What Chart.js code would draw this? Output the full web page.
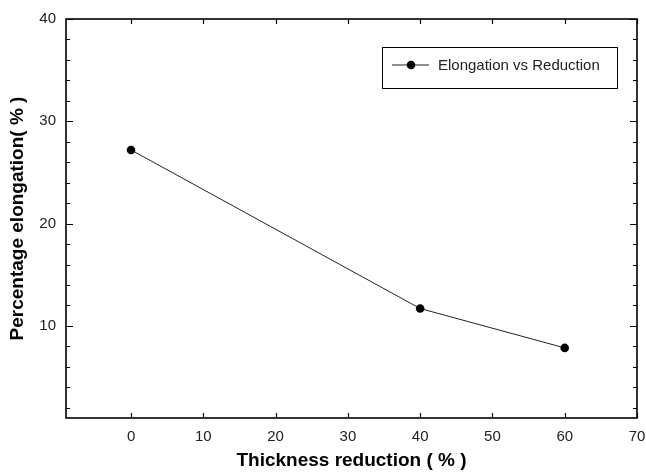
<!DOCTYPE html>
<html><head><meta charset="utf-8">
<script src="https://cdn.jsdelivr.net/npm/chart.js@4/dist/chart.umd.min.js"></script>
<style>html,body{margin:0;padding:0;background:#fff}#wrap{width:646px;height:472px}</style>
</head><body><div id="wrap"><canvas id="c" width="646" height="472"></canvas></div>
<script>
const thicknessReduction = [0, 40, 60];
const elongation = [27.2, 11.7, 7.85];
const seriesLabel = 'Elongation vs Reduction';
const xTickValues = [0, 10, 20, 30, 40, 50, 60, 70];
const yTickValues = [10, 20, 30, 40];
const xTitle = 'Thickness reduction ( % )';
const yTitle = 'Percentage elongation( % )';

const FONT = '"Liberation Sans", Arial, sans-serif';

const framePlugin = {
  id: 'frame',
  afterDraw(chart) {
    const {ctx, chartArea: a, scales: {x, y}} = chart;
    ctx.save();
    ctx.strokeStyle = '#000';
    ctx.lineWidth = 1.2;
    ctx.beginPath();
    for (let v = Math.ceil(y.min / 2) * 2; v <= y.max; v += 2) {
      const py = Math.round(y.getPixelForValue(v)) + 0.5;
      const len = (v % 10 === 0) ? 7 : 4;
      ctx.moveTo(a.left, py); ctx.lineTo(a.left + len, py);
      ctx.moveTo(a.right, py); ctx.lineTo(a.right - len, py);
    }
    xTickValues.forEach(v => {
      const px = Math.round(x.getPixelForValue(v)) + 0.5;
      ctx.moveTo(px, a.bottom); ctx.lineTo(px, a.bottom - 5);
      ctx.moveTo(px, a.top); ctx.lineTo(px, a.top + 5);
    });
    ctx.stroke();
    ctx.lineWidth = 1.6;
    ctx.strokeRect(a.left, a.top, a.right - a.left, a.bottom - a.top);
    const ds = chart.data.datasets[0];
    const lx = 382, ly = 47, lw = 235, lh = 41;
    ctx.lineWidth = 1;
    ctx.strokeRect(lx + 0.5, ly + 0.5, lw, lh);
    const cy = ly + 18;
    ctx.strokeStyle = ds.borderColor;
    ctx.lineWidth = 1.2;
    ctx.beginPath(); ctx.moveTo(lx + 10, cy); ctx.lineTo(lx + 47, cy); ctx.stroke();
    ctx.fillStyle = '#000';
    ctx.beginPath(); ctx.arc(lx + 29, cy, 4.3, 0, Math.PI * 2); ctx.fill();
    ctx.fillStyle = '#222';
    ctx.font = '15px ' + FONT;
    ctx.textBaseline = 'middle';
    ctx.textAlign = 'left';
    ctx.fillText(ds.label, lx + 56, cy + 1);
    ctx.restore();
  }
};

new Chart(document.getElementById('c'), {
  type: 'line',
  data: {
    datasets: [{
      label: seriesLabel,
      data: thicknessReduction.map((v, i) => ({x: v, y: elongation[i]})),
      borderColor: '#222',
      borderWidth: 1,
      pointRadius: 4.3,
      pointBackgroundColor: '#000',
      pointBorderColor: '#000',
      pointBorderWidth: 0,
      tension: 0
    }]
  },
  options: {
    responsive: false,
    animation: false,
    events: [],
    layout: {padding: {left: 0, right: 9, top: 19, bottom: 0}},
    plugins: {legend: {display: false}, tooltip: {enabled: false}},
    scales: {
      x: {
        type: 'linear',
        min: -9, max: 70,
        afterBuildTicks: s => { s.ticks = xTickValues.map(v => ({value: v})); },
        afterFit: s => { s.height = 54; s.paddingRight = 0; s.paddingLeft = 0; },
        grid: {display: false, drawTicks: false},
        border: {display: false},
        ticks: {padding: 10, color: '#222', font: {family: FONT, size: 15}, maxRotation: 0, autoSkip: false},
        title: {display: true, text: xTitle, color: '#000', font: {family: FONT, size: 19, weight: 'bold'}, padding: {top: 0, bottom: 0}}
      },
      y: {
        type: 'linear',
        min: 1, max: 40,
        afterBuildTicks: s => { s.ticks = yTickValues.map(v => ({value: v})); },
        afterFit: s => { s.width = 66; s.paddingTop = 0; s.paddingBottom = 0; },
        grid: {display: false, drawTicks: false},
        border: {display: false},
        ticks: {padding: 10, color: '#222', font: {family: FONT, size: 15}},
        title: {display: true, text: yTitle, color: '#000', font: {family: FONT, size: 19, weight: 'bold'}, padding: {top: 6, bottom: 0}}
      }
    }
  },
  plugins: [framePlugin]
});
</script>
</body></html>
